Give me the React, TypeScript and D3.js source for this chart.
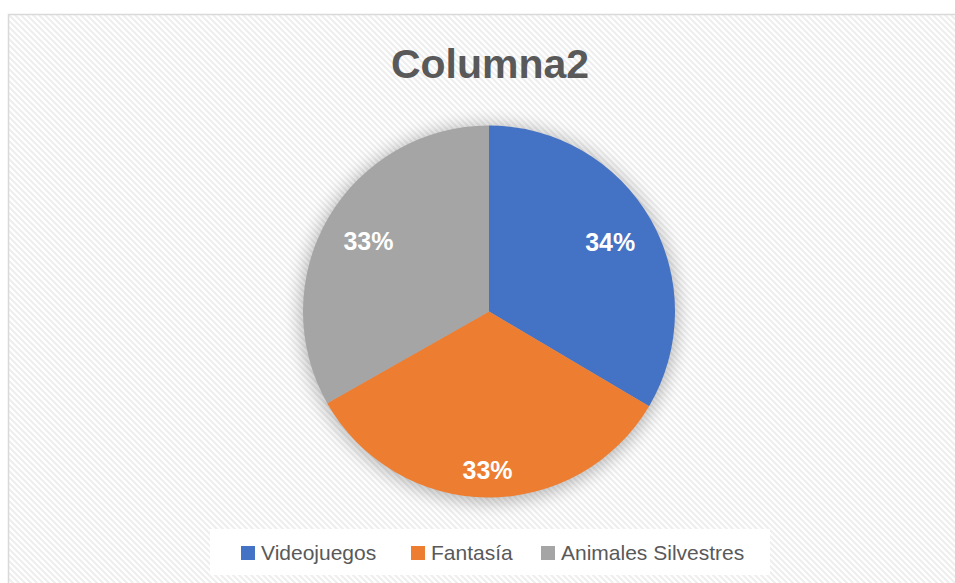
import React from "react";
import * as d3 from "d3";

const categories = ["Videojuegos", "Fantasía", "Animales Silvestres"];
const values = [33.5, 33.3, 33.2];
const colors = ["#4472C4", "#ED7D31", "#A5A5A5"];
const title = "Columna2";

const W = 955;
const H = 583;

export default function App() {
  const cx = 489;
  const cy = 311.5;
  const r = 186;
  const total = d3.sum(values);
  const pie = d3.pie<number>().sort(null).value((d) => d)(values);
  const arc = d3.arc<d3.PieArcDatum<number>>().innerRadius(0).outerRadius(r);

  const labelPos = (d: d3.PieArcDatum<number>) => {
    const mid = (d.startAngle + d.endAngle) / 2;
    const lr = r * (0.75 + 0.1 * Math.max(0, -Math.cos(mid)));
    return [Math.sin(mid) * lr, -Math.cos(mid) * lr];
  };

  const legendX = [241, 411, 541];

  return (
    <svg
      width={W}
      height={H}
      style={{ position: "absolute", left: 0, top: 0, display: "block" }}
      fontFamily="'Liberation Sans', Arial, sans-serif"
    >
      <defs>
        <pattern id="hatch" patternUnits="userSpaceOnUse" width="6" height="6">
          <rect width="6" height="6" fill="#ffffff" />
          <path d="M-1,-1 L7,7 M-1,5 L1,7 M5,-1 L7,1" stroke="#eeeeee" strokeWidth="2" />
        </pattern>
        <filter id="glow" x="-30%" y="-30%" width="160%" height="160%">
          <feGaussianBlur stdDeviation="9" />
        </filter>
      </defs>
      <rect x={0} y={0} width={W} height={H} fill="#ffffff" />
      <rect x={8.5} y={14.5} width={W + 20} height={H + 20} fill="url(#hatch)" stroke="#d9d9d9" strokeWidth={1.5} />
      <text
        x={490}
        y={78}
        textAnchor="middle"
        fontSize={41}
        fontWeight="bold"
        fill="#595959"
      >
        {title}
      </text>
      <circle cx={cx} cy={cy + 2} r={r + 2} fill="#000" opacity={0.28} filter="url(#glow)" />
      <g transform={`translate(${cx},${cy})`}>
        {pie.map((d, i) => (
          <path key={i} d={arc(d) || ""} fill={colors[i]} />
        ))}
        {pie.map((d, i) => {
          const [x, y] = labelPos(d);
          return (
            <text
              key={"l" + i}
              x={x}
              y={y}
              dy="0.36em"
              textAnchor="middle"
              fontSize={25}
              fontWeight="bold"
              fill="#ffffff"
            >
              {Math.round((d.data / total) * 100) + "%"}
            </text>
          );
        })}
      </g>
      <rect x={210} y={529} width={560} height={46} fill="#ffffff" />
      <g>
        {categories.map((c, i) => (
          <g key={c}>
            <rect x={legendX[i]} y={546} width={14} height={14} fill={colors[i]} />
            <text x={legendX[i] + 20} y={560} fontSize={21} fill="#595959">
              {c}
            </text>
          </g>
        ))}
      </g>
    </svg>
  );
}
